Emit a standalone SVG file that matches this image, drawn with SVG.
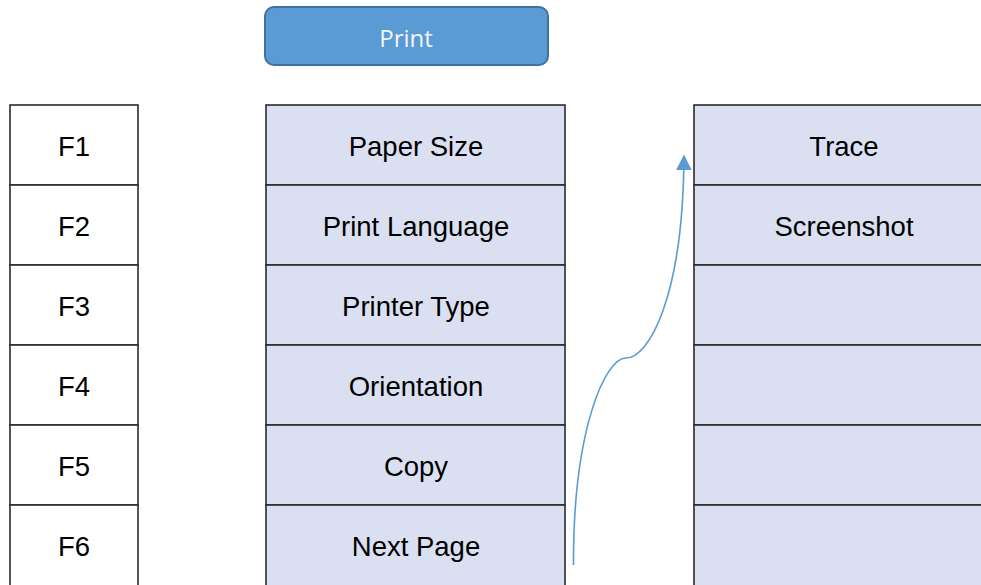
<svg xmlns="http://www.w3.org/2000/svg" width="981" height="585" viewBox="0 0 981 585">
<defs>
<style>
.cell{stroke:#2b2b2b;stroke-width:1.6}
.w{fill:#ffffff}
.b{fill:#dae0f1}
.t{font-family:"Liberation Sans",Arial,sans-serif;font-size:27.5px;fill:#000;text-anchor:middle}
.btn{fill:#5b9bd5;stroke:#41719c;stroke-width:2}
.bt{font-family:"Open Sans","Liberation Sans",sans-serif;font-size:24px;fill:#f4f4f4;text-anchor:middle}
.conn{fill:none;stroke:#5b9bd5;stroke-width:1.6}
</style>
<marker id="ah" viewBox="0 0 10 10" refX="9" refY="5" markerWidth="16" markerHeight="16" markerUnits="userSpaceOnUse" orient="auto">
<path d="M0,0 L10,5 L0,10 z" fill="#5b9bd5"/>
</marker>
</defs>
<rect width="981" height="585" fill="#ffffff"/>
<g id="print">
<rect class="btn" x="265" y="7" width="283" height="58" rx="9"/>
<text class="bt" x="406" y="47">Print</text>
</g>
<g id="fkeys">
<rect class="cell w" x="10" y="105" width="128" height="80"/>
<text class="t" x="74" y="156">F1</text>
<rect class="cell w" x="10" y="185" width="128" height="80"/>
<text class="t" x="74" y="236">F2</text>
<rect class="cell w" x="10" y="265" width="128" height="80"/>
<text class="t" x="74" y="316">F3</text>
<rect class="cell w" x="10" y="345" width="128" height="80"/>
<text class="t" x="74" y="396">F4</text>
<rect class="cell w" x="10" y="425" width="128" height="80"/>
<text class="t" x="74" y="476">F5</text>
<rect class="cell w" x="10" y="505" width="128" height="82"/>
<text class="t" x="74" y="556">F6</text>
</g>
<g id="options">
<rect class="cell b" x="266" y="105" width="299" height="80"/>
<text class="t" x="416" y="156">Paper Size</text>
<rect class="cell b" x="266" y="185" width="299" height="80"/>
<text class="t" x="416" y="236">Print Language</text>
<rect class="cell b" x="266" y="265" width="299" height="80"/>
<text class="t" x="416" y="316">Printer Type</text>
<rect class="cell b" x="266" y="345" width="299" height="80"/>
<text class="t" x="416" y="396">Orientation</text>
<rect class="cell b" x="266" y="425" width="299" height="80"/>
<text class="t" x="416" y="476">Copy</text>
<rect class="cell b" x="266" y="505" width="299" height="82"/>
<text class="t" x="416" y="556">Next Page</text>
</g>
<g id="extras">
<rect class="cell b" x="694" y="105" width="300" height="80"/>
<text class="t" x="844" y="156">Trace</text>
<rect class="cell b" x="694" y="185" width="300" height="80"/>
<text class="t" x="844" y="236">Screenshot</text>
<rect class="cell b" x="694" y="265" width="300" height="80"/>
<rect class="cell b" x="694" y="345" width="300" height="80"/>
<rect class="cell b" x="694" y="425" width="300" height="80"/>
<rect class="cell b" x="694" y="505" width="300" height="82"/>
</g>
<g id="connectors">
<path class="conn" d="M573.5,565 C573,430 605,358 626,358 C648,358 683,300 684,156" marker-end="url(#ah)"/>
</g>
</svg>
